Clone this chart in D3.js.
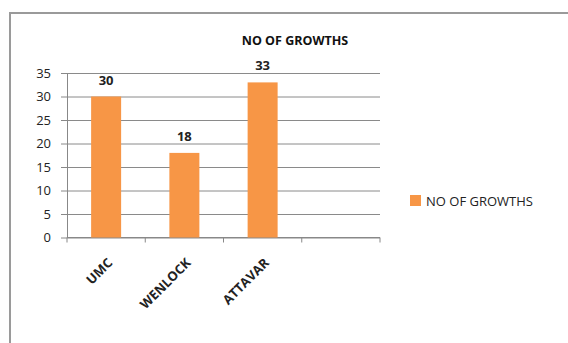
<!DOCTYPE html>
<head>
    <meta charset="utf-8">
    <style>
        body { margin: 0; background: #fff; font-family: 'Open Sans', sans-serif; }
        svg { position: absolute; top: 0; left: 0; }
        .axis text { font-family: 'Open Sans', sans-serif; font-size: 13px; fill: #222; }
        .axis path, .axis line { stroke: #888; }
        .grid line { stroke: #8a8a8a; }
        .grid path { display: none; }
        .x-axis text { font-weight: bold; font-size: 13px; }
        .bar-label { font-size: 13px; font-weight: bold; text-anchor: middle; fill: #222; }
        .chart-title { font-size: 12.5px; font-weight: bold; text-anchor: middle; fill: #111; }
        .legend text { font-size: 13px; fill: #222; }
    </style>
    <script src="https://d3js.org/d3.v7.min.js"></script>
</head>
<body>
<script>
    ////////////// Data //////////////
    const categories = ["UMC", "WENLOCK", "ATTAVAR", ""]
    const values = [30, 18, 33]
    const y_ticks = [0, 5, 10, 15, 20, 25, 30, 35]
    const series_name = "NO OF GROWTHS"

    ////////////// SVG //////////////
    const W = 568, H = 343
    const margin = { top: 73, left: 67, right: 188, bottom: 105 }
    const width = W - margin.left - margin.right   // 313
    const height = 237.5 - margin.top

    const root = d3.select("body").append("svg")
        .attr("width", W).attr("height", H)

    //outer chart border
    root.append("rect")
        .attr("x", 10).attr("y", 13)
        .attr("width", W).attr("height", H)
        .attr("fill", "none")
        .attr("stroke", "#9a9a9a")
        .attr("stroke-width", 2)

    const svg = root.append("g")
        .attr("transform", "translate(" + margin.left + "," + margin.top + ")")

    ////////////// Scales //////////////
    const x_scale = d3.scaleBand()
        .domain(categories.map((d, i) => i))
        .range([0, width])

    const y_scale = d3.scaleLinear()
        .domain([0, 35])
        .range([height, 0])

    ////////////// Gridlines & axes //////////////
    svg.append("g")
        .attr("class", "grid")
        .call(d3.axisLeft(y_scale).tickValues(y_ticks).tickSize(-width).tickFormat(""))

    const y_axis = svg.append("g")
        .attr("class", "axis y-axis")
        .call(d3.axisLeft(y_scale).tickValues(y_ticks).tickSize(6).tickSizeOuter(0).tickPadding(10))

    //x axis with ticks at band boundaries
    const x_axis = svg.append("g")
        .attr("class", "axis x-axis")
        .attr("transform", "translate(0," + height + ")")
    x_axis.append("line")
        .attr("x1", 0).attr("x2", width)
        .attr("stroke", "#888")
    x_axis.selectAll(".tick-mark")
        .data(d3.range(categories.length + 1))
        .join("line")
        .attr("x1", i => i * x_scale.step())
        .attr("x2", i => i * x_scale.step())
        .attr("y1", 0).attr("y2", 5)
        .attr("stroke", "#888")
    x_axis.selectAll(".cat-label")
        .data(categories)
        .join("text")
        .attr("transform", (d, i) => "translate(" + (x_scale(i) + x_scale.bandwidth() / 2 + 4) + ",23) rotate(-45)")
        .attr("text-anchor", "end")
        .attr("dy", "0.35em")
        .text(d => d)

    ////////////// Bars //////////////
    const bar_w = 30
    svg.selectAll(".bar")
        .data(values)
        .join("rect")
        .attr("class", "bar")
        .attr("x", (d, i) => x_scale(i) + x_scale.bandwidth() / 2 - bar_w / 2)
        .attr("y", d => y_scale(d))
        .attr("width", bar_w)
        .attr("height", d => height - y_scale(d))
        .attr("fill", "#F79646")

    svg.selectAll(".bar-label")
        .data(values)
        .join("text")
        .attr("class", "bar-label")
        .attr("x", (d, i) => x_scale(i) + x_scale.bandwidth() / 2)
        .attr("y", d => y_scale(d) - 12)
        .text(d => d)

    ////////////// Title & legend //////////////
    root.append("text")
        .attr("class", "chart-title")
        .attr("x", 295).attr("y", 45)
        .text(series_name)

    const legend = root.append("g").attr("class", "legend")
        .attr("transform", "translate(410,195)")
    legend.append("rect")
        .attr("width", 11).attr("height", 11)
        .attr("fill", "#F79646")
    legend.append("text")
        .attr("x", 16).attr("y", 6)
        .attr("dy", "0.35em")
        .text(series_name)
</script>
</body>
